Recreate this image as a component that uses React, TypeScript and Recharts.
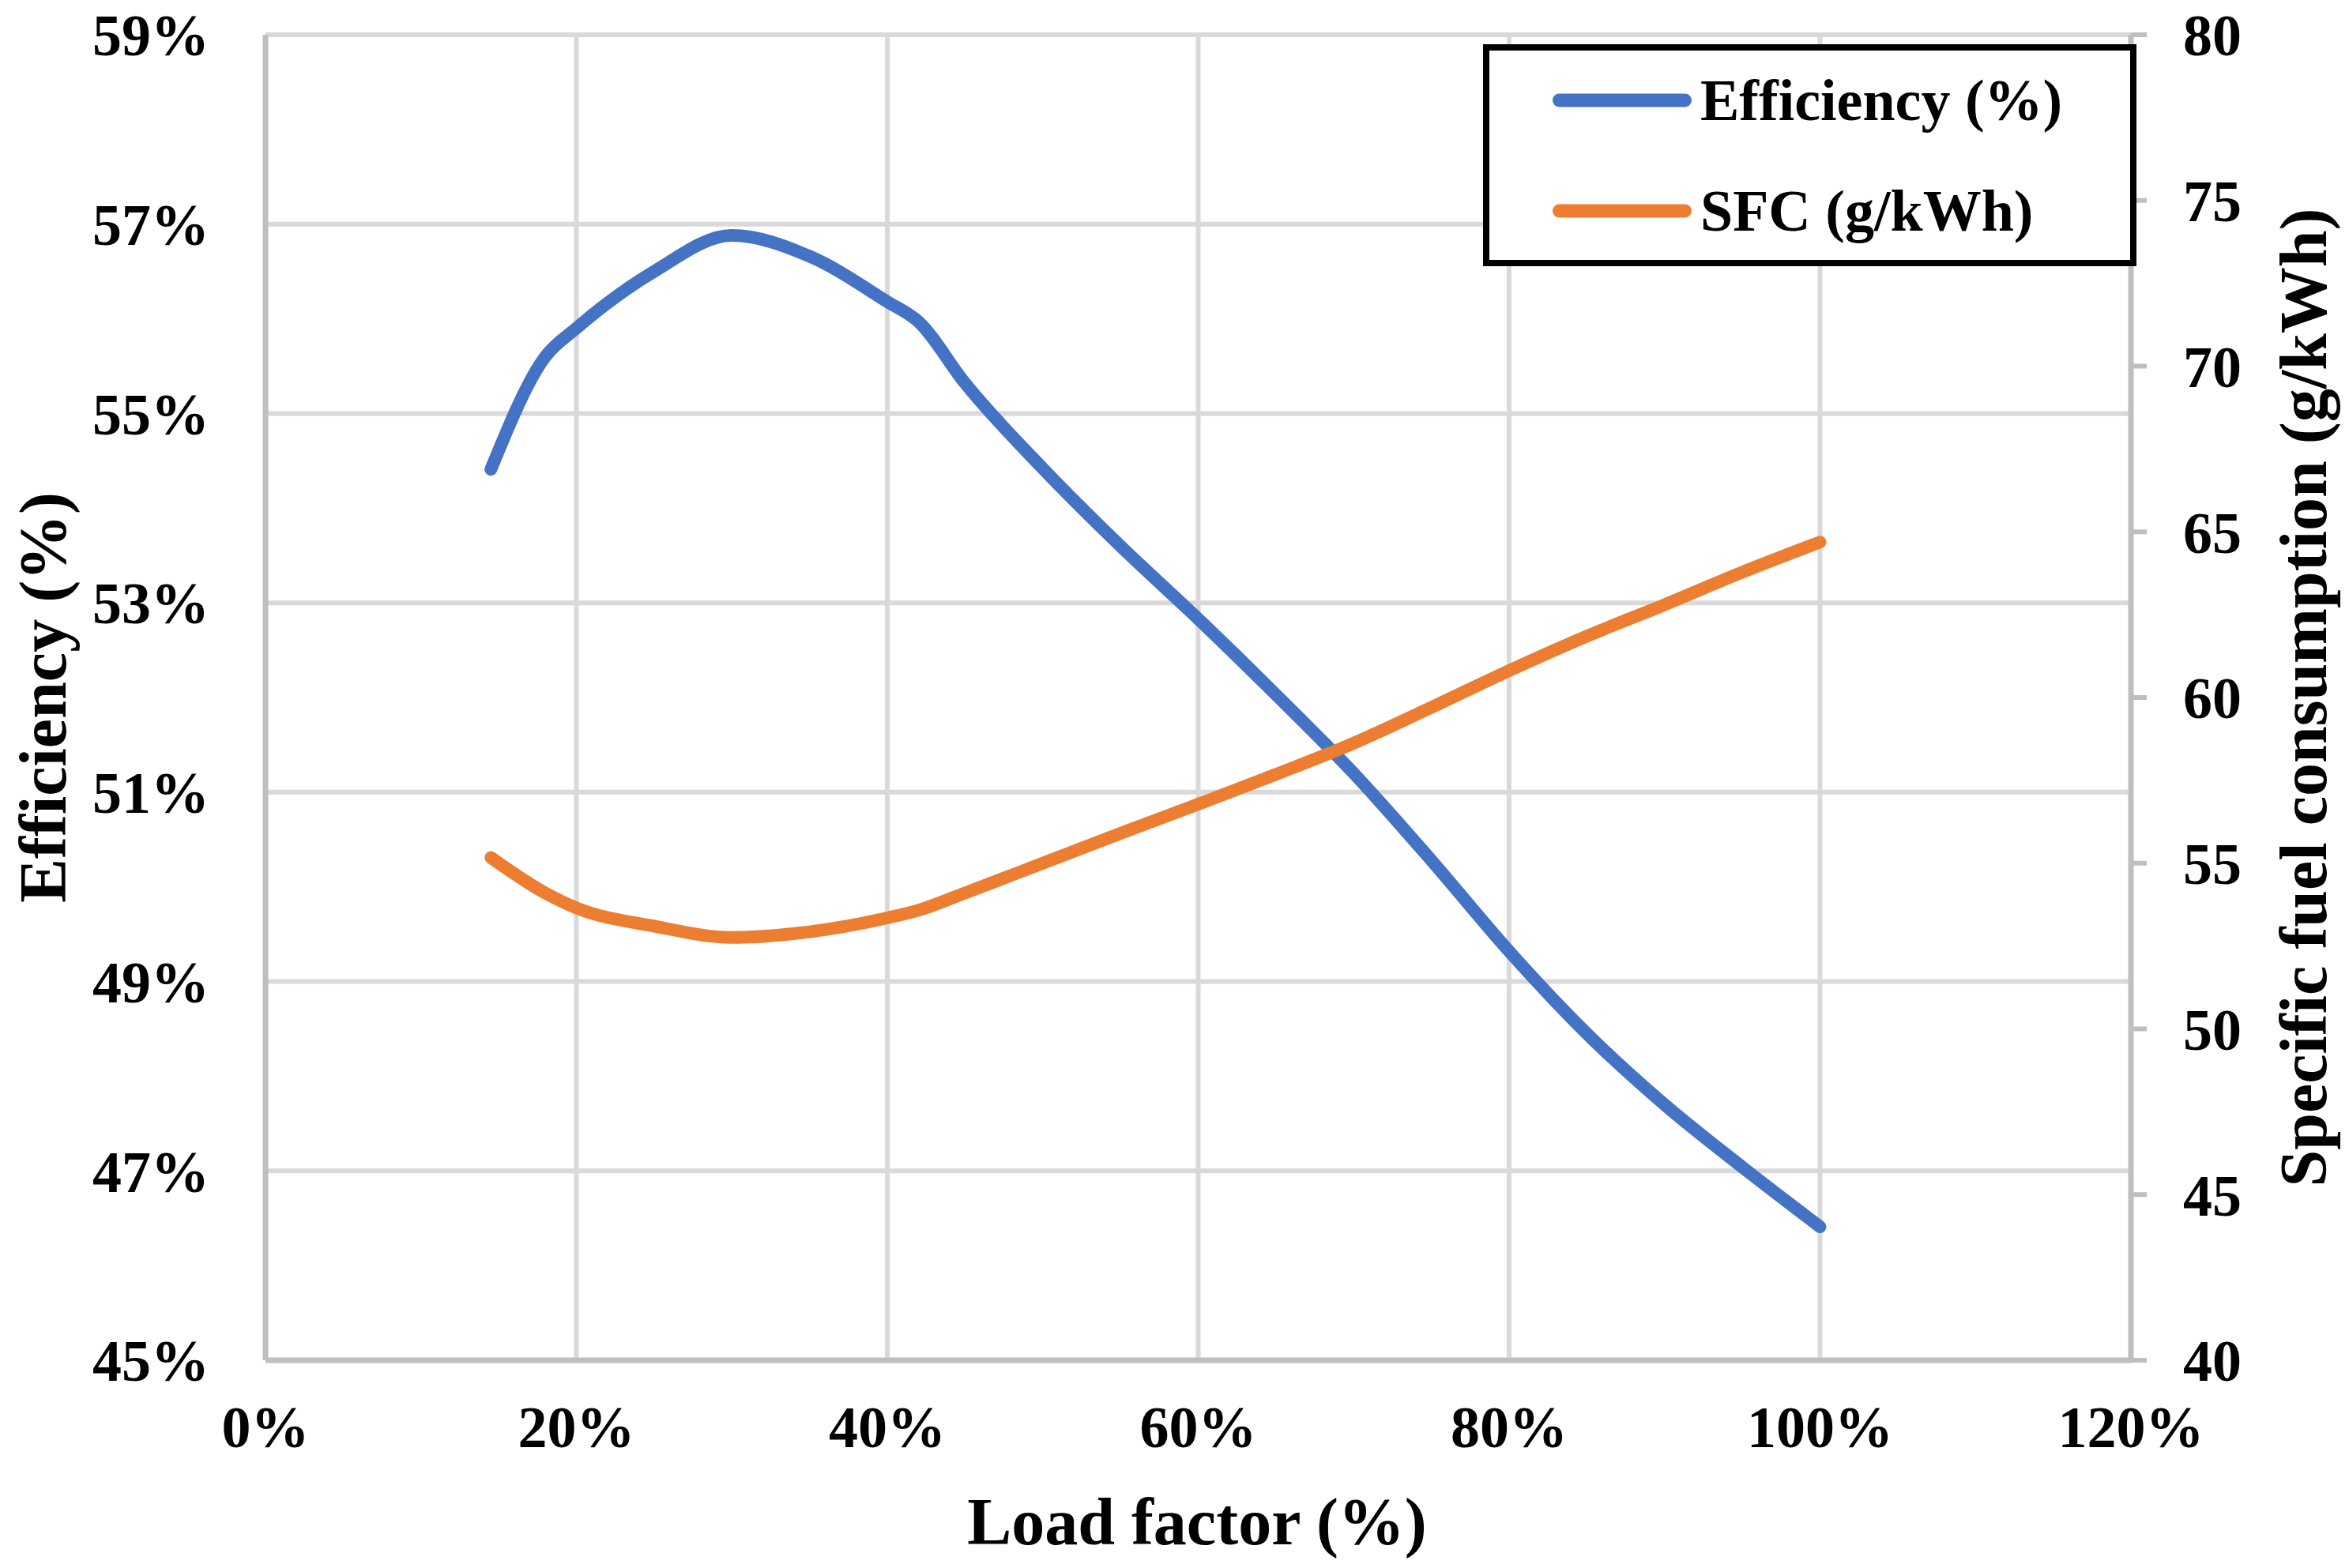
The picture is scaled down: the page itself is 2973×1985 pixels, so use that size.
import { LineChart, Line, XAxis, YAxis, CartesianGrid, Legend } from 'recharts'

const loadFactor = [14.5, 18, 20, 25, 30, 35, 40, 42, 45, 50, 55, 60, 65, 70, 75, 80, 85, 90, 95, 100]
const efficiency = [54.41, 55.6, 55.9, 56.5, 56.88, 56.66, 56.18, 55.97, 55.32, 54.42, 53.6, 52.83, 52.03, 51.2, 50.28, 49.32, 48.45, 47.7, 47.04, 46.41]
const sfc = [55.17, 54.1, 53.65, 53.1, 52.76, 52.93, 53.35, 53.58, 54.1, 55.0, 55.9, 56.78, 57.68, 58.62, 59.7, 60.81, 61.85, 62.8, 63.78, 64.69]

const xTicks = [0, 20, 40, 60, 80, 100, 120]
const leftTicks = [45, 47, 49, 51, 53, 55, 57, 59]
const rightTicks = [40, 45, 50, 55, 60, 65, 70, 75, 80]

const data = loadFactor.map((lf, i) => ({ lf, eff: efficiency[i], sfc: sfc[i] }))

const FONT = "'Liberation Serif', 'Times New Roman', serif"
const tickStyle = { fontSize: 74, fontWeight: 'bold', fill: '#000', fontFamily: FONT }
const titleStyle = { fontSize: 84, fontWeight: 'bold', fill: '#000', fontFamily: FONT }

function LegendBox({ payload }: any) {
  return (
    <div
      style={{
        position: 'relative',
        width: 827,
        height: 281,
        boxSizing: 'border-box',
        border: '8px solid #000',
        background: '#fff',
      }}
    >
      {(payload || []).map((p: any, i: number) => (
        <div
          key={p.value}
          style={{
            position: 'absolute',
            left: 80,
            top: 13 + i * 140,
            height: 100,
            display: 'flex',
            alignItems: 'center',
          }}
        >
          <svg width={176} height={20}>
            <line x1={8.5} y1={10} x2={167.5} y2={10} stroke={p.color} strokeWidth={17} strokeLinecap="round" />
          </svg>
          <span
            style={{
              marginLeft: 11,
              fontFamily: FONT,
              fontWeight: 'bold',
              fontSize: 74,
              lineHeight: 1,
              color: '#000',
              whiteSpace: 'nowrap',
            }}
          >
            {p.value}
          </span>
        </div>
      ))}
    </div>
  )
}

export default function App() {
  return (
    <div style={{ position: 'absolute', left: 0, top: 0, background: '#fff' }}>
      <LineChart width={2973} height={1985} data={data} margin={{ top: 44, right: 0, bottom: 0, left: 0 }}>
        <CartesianGrid yAxisId="left" stroke="#D9D9D9" strokeWidth={6} />
        <XAxis
          dataKey="lf"
          type="number"
          domain={[0, 120]}
          ticks={xTicks}
          tickFormatter={(v) => `${v}%`}
          height={263}
          tick={tickStyle}
          tickLine={false}
          tickSize={0}
          tickMargin={57}
          axisLine={{ stroke: '#BFBFBF', strokeWidth: 7 }}
          label={{
            content: () => (
              <text x={1515} y={1926} textAnchor="middle" dominantBaseline="central" style={titleStyle}>
                Load factor (%)
              </text>
            ),
          }}
        />
        <YAxis
          yAxisId="left"
          domain={[45, 59]}
          ticks={leftTicks}
          tickFormatter={(v) => `${v}%`}
          width={336}
          tick={tickStyle}
          tickLine={false}
          tickSize={0}
          tickMargin={71}
          axisLine={{ stroke: '#BFBFBF', strokeWidth: 7 }}
          label={{
            content: () => (
              <text
                x={54}
                y={883}
                textAnchor="middle"
                dominantBaseline="central"
                transform="rotate(-90 54 883)"
                style={titleStyle}
              >
                Efficiency (%)
              </text>
            ),
          }}
        />
        <YAxis
          yAxisId="right"
          orientation="right"
          domain={[40, 80]}
          ticks={rightTicks}
          width={276}
          tick={tickStyle}
          tickLine={{ stroke: '#BFBFBF', strokeWidth: 6 }}
          tickSize={20}
          tickMargin={46}
          axisLine={{ stroke: '#BFBFBF', strokeWidth: 7 }}
          label={{
            content: () => (
              <text
                x={2915}
                y={883}
                textAnchor="middle"
                dominantBaseline="central"
                transform="rotate(-90 2915 883)"
                style={titleStyle}
              >
                Specific fuel consumption (g/kWh)
              </text>
            ),
          }}
        />
        <Legend
          layout="vertical"
          align="center"
          verticalAlign="middle"
          wrapperStyle={{ left: 1877, top: 56, width: 827, height: 281 }}
          content={<LegendBox />}
        />
        <Line
          yAxisId="left"
          dataKey="eff"
          name="Efficiency (%)"
          type="monotone"
          stroke="#4472C4"
          strokeWidth={16}
          strokeLinecap="round"
          dot={false}
          isAnimationActive={false}
        />
        <Line
          yAxisId="right"
          dataKey="sfc"
          name="SFC (g/kWh)"
          type="monotone"
          stroke="#ED7D31"
          strokeWidth={16}
          strokeLinecap="round"
          dot={false}
          isAnimationActive={false}
        />
      </LineChart>
    </div>
  )
}
